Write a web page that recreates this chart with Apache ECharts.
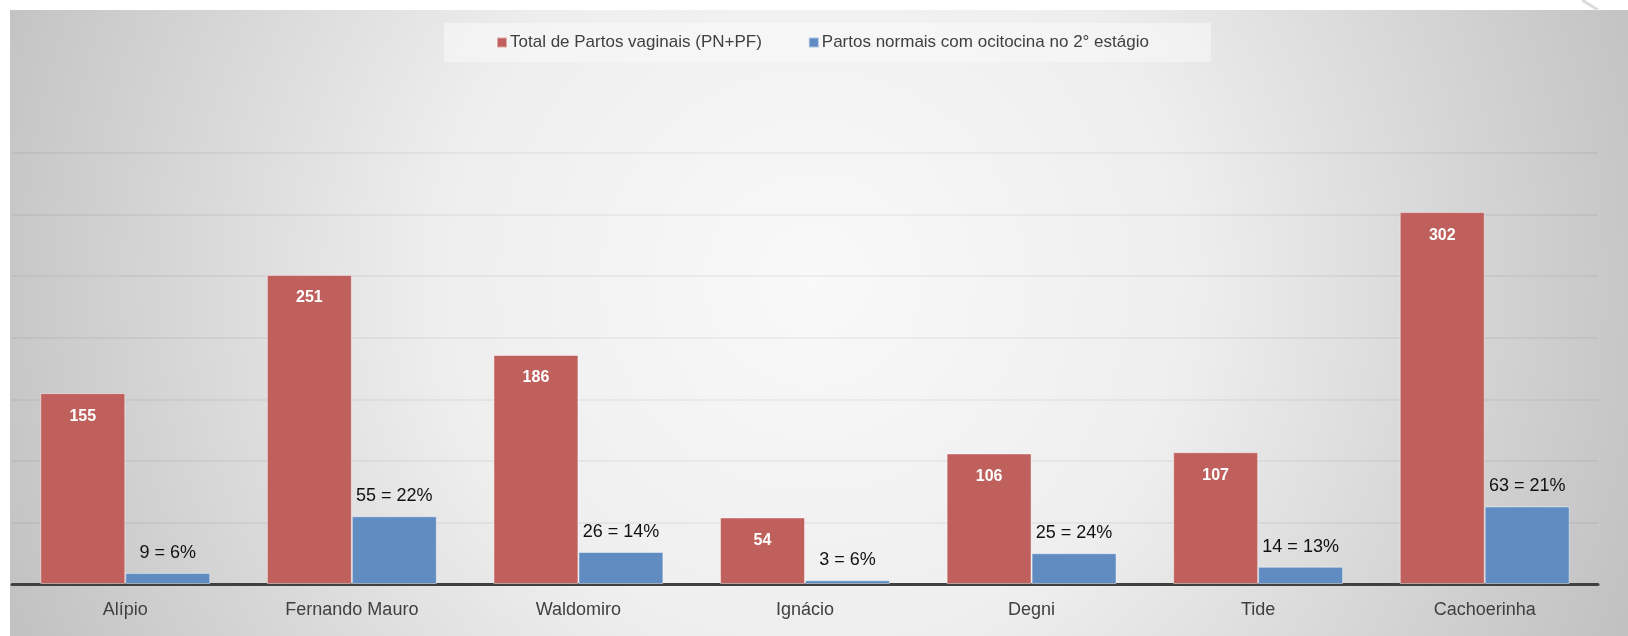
<!DOCTYPE html>
<html>
<head>
<meta charset="utf-8">
<script src="https://cdn.jsdelivr.net/npm/echarts@6/dist/echarts.min.js"></script>
<style>
html,body{margin:0;padding:0;background:#fff;}
#chart{width:1628px;height:636px;}
</style>
</head>
<body>
<div id="chart"></div>
<script>
const categories = ['Alípio', 'Fernando Mauro', 'Waldomiro', 'Ignácio', 'Degni', 'Tide', 'Cachoerinha'];
const totalVaginais = [155, 251, 186, 54, 106, 107, 302];
const ocitocina = [9, 55, 26, 3, 25, 14, 63];
const ocitocinaPct = [6, 22, 14, 6, 24, 13, 21];
const seriesNames = ['Total de Partos vaginais (PN+PF)', 'Partos normais com ocitocina no 2° estágio'];
const yTicks = {min: 0, max: 350, interval: 50};

const chart = echarts.init(document.getElementById('chart'), null, {renderer: 'canvas'});
const font = "'Liberation Sans', Arial, sans-serif";

chart.setOption({
  backgroundColor: 'transparent',
  animation: false,
  graphic: {
    elements: [
      {
        type: 'rect', z: -100, silent: true,
        shape: {x: 10, y: 10, width: 1618, height: 626},
        style: {
          fill: {
            type: 'radial', x: 814, y: 280, r: 900, global: true,
            colorStops: [
              {offset: 0, color: '#f9f9f9'},
              {offset: 0.42, color: '#eeeeee'},
              {offset: 1, color: '#bfbfbf'}
            ]
          }
        }
      },
      {
        type: 'line', z: -99, silent: true,
        shape: {x1: 1582, y1: 0, x2: 1598, y2: 10},
        style: {stroke: '#dcdcdc', lineWidth: 3}
      }
    ]
  },
  legend: {
    left: 444, top: 23,
    padding: [11, 62, 11, 52],
    backgroundColor: 'rgba(250,250,250,0.55)',
    itemWidth: 10, itemHeight: 10, itemGap: 46,
    icon: 'rect',
    textStyle: {fontFamily: font, fontSize: 17, color: '#404040', padding: [0, 0, 0, -2]},
    data: seriesNames
  },
  grid: {left: 12, right: 30, top: 153, bottom: 52, containLabel: false},
  xAxis: {
    type: 'category',
    data: categories,
    axisLine: {lineStyle: {color: '#404040', width: 3}},
    axisTick: {show: false},
    axisLabel: {fontFamily: font, fontSize: 18, color: '#404040', margin: 17}
  },
  yAxis: {
    type: 'value',
    min: yTicks.min, max: yTicks.max, interval: yTicks.interval,
    axisLine: {show: false},
    axisTick: {show: false},
    axisLabel: {show: false},
    splitLine: {lineStyle: {color: 'rgba(0,0,0,0.06)', width: 1.5}}
  },
  series: [
    {
      name: seriesNames[0],
      type: 'bar',
      data: totalVaginais,
      barGap: '0%',
      barCategoryGap: '25%',
      itemStyle: {color: '#C0605D', borderColor: 'rgba(255,255,255,0.45)', borderWidth: 1},
      label: {
        show: true, position: 'insideTop', distance: 15,
        fontFamily: font, fontSize: 16, fontWeight: 'bold', color: '#ffffff'
      }
    },
    {
      name: seriesNames[1],
      type: 'bar',
      data: ocitocina,
      barGap: '0%',
      barCategoryGap: '25%',
      itemStyle: {color: '#608CC2', borderColor: 'rgba(255,255,255,0.45)', borderWidth: 1},
      label: {
        show: true, position: 'top', distance: 11,
        fontFamily: font, fontSize: 18, color: '#111111',
        formatter: function (p) { return p.value + ' = ' + ocitocinaPct[p.dataIndex] + '%'; }
      }
    }
  ]
});
</script>
</body>
</html>
